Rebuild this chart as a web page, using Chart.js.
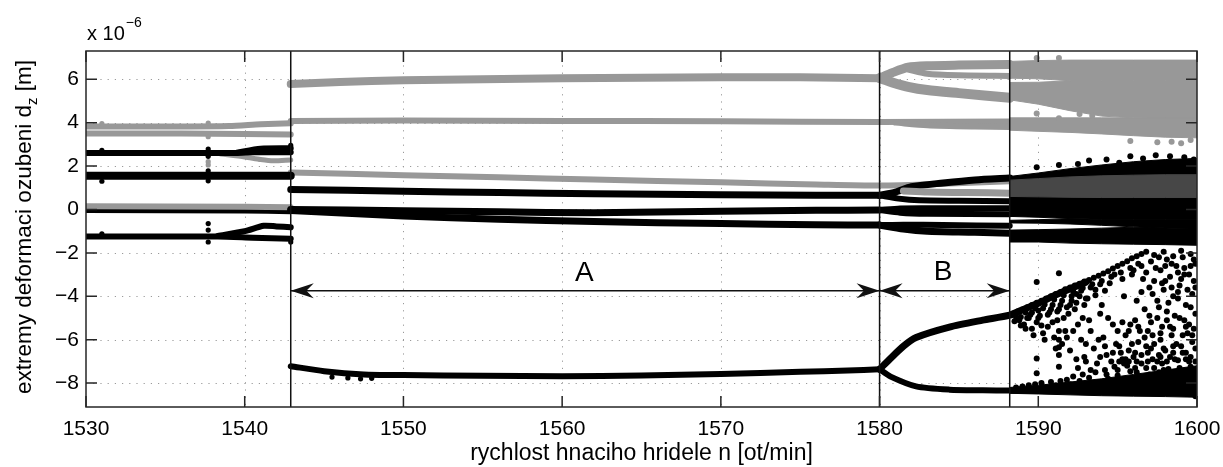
<!DOCTYPE html>
<html>
<head>
<meta charset="utf-8">
<script src="https://cdn.jsdelivr.net/npm/chart.js@4.4.1/dist/chart.umd.min.js"></script>
<style>
  html, body { margin: 0; padding: 0; background: #fff; }
  canvas { display: block; }
</style>
</head>
<body>
<canvas id="bifurcation" width="1223" height="467"></canvas>
<script>
// --- axes ---
const speedTicks = [1530, 1540, 1550, 1560, 1570, 1580, 1590, 1600];
const deformTicks = [-8, -6, -4, -2, 0, 2, 4, 6];
const regionBounds = [1542.9, 1580, 1588.2];
const arrowLevel = -3.75;
const regionLabels = [['A', 1561.4, -2.95], ['B', 1584.0, -2.9]];

const GRAY = '#989898';
const BLACK = '#000000';

// --- 1530-1542.9 rpm ---
const gray38 = [[1530, 3.82], [1536, 3.82], [1539, 3.84], [1541, 3.92], [1542.9, 3.97]];
const gray35 = [[1530, 3.5], [1536, 3.5], [1540, 3.48], [1542.9, 3.45]];
const black26 = [[1530, 2.6], [1539, 2.6], [1540.5, 2.63], [1542.9, 2.64]];
const black28 = [[1539.5, 2.62], [1541, 2.8], [1542.9, 2.82]];
const gray23 = [[1538.5, 2.55], [1540, 2.42], [1541, 2.3], [1541.8, 2.24], [1542.9, 2.28]];
const black16 = [[1530, 1.55], [1542.9, 1.55]];
const gray01 = [[1530, 0.15], [1540, 0.13], [1542.9, 0.1]];
const black00 = [[1530, -0.05], [1540, -0.07], [1542.9, -0.1]];
const black12 = [[1530, -1.25], [1538.3, -1.25], [1540.5, -1.3], [1542.9, -1.35]];
const black08 = [[1538.3, -1.22], [1540, -1.0], [1541.2, -0.75], [1542, -0.78], [1542.9, -0.82]];
const sweepDotsBlack = [[1531, 2.72], [1531, 1.3], [1531, -1.12], [1537.7, 2.78], [1537.7, 2.45],
  [1537.7, 1.78], [1537.7, 1.32], [1537.7, -0.65], [1537.7, -0.95], [1537.7, -1.5], [1542.9, 2.95], [1542.9, -1.5]];
const sweepDotsGray = [[1531, 3.95], [1537.7, 3.98], [1537.7, 2.2], [1537.7, 2.05], [1537.7, 3.35]];

// --- 1542.9-1580 rpm (A) ---
const gray6 = [[1542.9, 5.78], [1546, 5.87], [1550, 5.95], [1555, 6.0], [1560, 6.04], [1565, 6.07], [1570, 6.09], [1575, 6.09], [1580, 6.05]];
const gray4 = [[1542.9, 4.08], [1550, 4.1], [1560, 4.08], [1570, 4.06], [1580, 4.03], [1588.2, 4.05]];
const gray4b = [[1581, 4.0], [1583, 3.88], [1586, 3.82], [1588.2, 3.8]];
const gray14 = [[1542.9, 1.7], [1550, 1.58], [1556, 1.48], [1562, 1.38], [1570, 1.25], [1576, 1.15], [1580, 1.1], [1584, 1.18], [1588.2, 1.3]];
const black09 = [[1542.9, 0.92], [1550, 0.84], [1556, 0.78], [1562, 0.72], [1570, 0.68], [1576, 0.66], [1580, 0.65]];
const black0a = [[1542.9, 0.0], [1550, -0.06], [1556, -0.11], [1562, -0.15], [1570, -0.08], [1576, -0.04], [1580, -0.03]];
const black0b = [[1542.9, -0.05], [1550, -0.3], [1556, -0.45], [1562, -0.56], [1570, -0.65], [1576, -0.7], [1580, -0.72]];
const black75 = [[1542.9, -7.22], [1545, -7.45], [1547.5, -7.6], [1550, -7.63], [1555, -7.66], [1560, -7.68],
  [1565, -7.65], [1570, -7.58], [1575, -7.48], [1578, -7.42], [1580, -7.36]];
const black75Dots = [[1545.5, -7.72], [1546.5, -7.76], [1547.3, -7.8], [1548, -7.78]];

// --- 1580-1588.2 rpm (B) ---
const gTopA = [[1580, 6.05], [1580.8, 6.3], [1581.8, 6.55], [1583, 6.62], [1585, 6.65], [1588.2, 6.68]];
const gTopB = [[1581.8, 6.45], [1583, 6.25], [1585, 6.18], [1588.2, 6.15]];
const gTopC = [[1580, 6.05], [1580.8, 5.85], [1581.8, 5.65], [1583, 5.5], [1585, 5.36], [1588.2, 5.15]];
const k1up = [[1580, 0.65], [1581, 0.8], [1582, 1.05], [1584, 1.22], [1586, 1.36], [1588.2, 1.45]];
const k1dn = [[1580, 0.65], [1581.2, 0.5], [1582.5, 0.42], [1585, 0.4], [1588.2, 0.38]];
const gMid = [[1581.5, 0.85], [1583, 0.8], [1585.5, 0.78], [1588.2, 0.75]];
const k2up = [[1580, -0.03], [1581.3, 0.05], [1583, 0.06], [1588.2, 0.06]];
const k2dn = [[1580, -0.03], [1581.3, -0.15], [1583, -0.2], [1588.2, -0.22]];
const k3up = [[1580, -0.72], [1581.5, -0.7], [1584, -0.72], [1588.2, -0.75]];
const k3dn = [[1580, -0.72], [1581.5, -0.9], [1583, -1.0], [1586, -1.05], [1588.2, -1.1]];
const branchUp = [[1580, -7.36], [1580.7, -6.85], [1581.5, -6.3], [1582.3, -5.9], [1584.4, -5.42], [1586.5, -5.1],
  [1588.2, -4.87], [1589, -4.62], [1590, -4.32], [1591, -3.97], [1592, -3.65], [1593, -3.35]];
const branchDown = [[1580, -7.36], [1580.7, -7.7], [1582.3, -8.15], [1584.4, -8.3], [1586.5, -8.33], [1588.2, -8.34],
  [1592, -8.38], [1596, -8.42], [1600, -8.45]];

// --- 1588.2-1600 rpm, chaotic ---
const grayCloudTop = [[1588.2, 6.82], [1590, 6.86], [1592, 6.88], [1594, 6.88], [1596, 6.88], [1598, 6.88], [1600, 6.88]];
const grayGapUpper = [[1588.2, 6.05], [1590, 6.02], [1592, 5.93], [1594, 5.93], [1596, 5.93], [1598, 5.93], [1600, 5.93]];
const grayGapLower = [[1588.2, 5.85], [1590, 5.86], [1592, 5.93], [1594, 5.93], [1596, 5.93], [1598, 5.93], [1600, 5.93]];
const grayCloudLow = [[1588.2, 5.05], [1590, 4.85], [1592, 4.55], [1594, 4.3], [1596, 4.22], [1598, 4.2], [1600, 4.2]];
const grayBandTop = [[1588.2, 4.22], [1590, 4.22], [1592, 4.22], [1594, 4.22], [1596, 4.22], [1598, 4.22], [1600, 4.22]];
const grayBandLow = [[1588.2, 3.65], [1590, 3.6], [1592, 3.55], [1594, 3.48], [1596, 3.4], [1598, 3.33], [1600, 3.3]];
const grayChaosDots = [[1589.9, 4.42], [1589.9, 6.98], [1591.3, 6.98], [1591.3, 4.2], [1597.5, 3.1], [1599, 3.05],
  [1592.6, 4.4], [1593.4, 4.32], [1595.8, 3.15], [1598.4, 3.12], [1599.6, 3.2]];

const midCloudTop = [[1588.2, 1.52], [1590, 1.68], [1592, 1.88], [1594, 2.05], [1596, 2.2], [1598, 2.3], [1600, 2.35]];
const midGap1Top = [[1588.2, -0.32], [1590, -0.36], [1592, -0.42], [1594, -0.45], [1596, -0.45], [1598, -0.45], [1600, -0.45]];
const midGap1Low = [[1588.2, -0.5], [1590, -0.47], [1592, -0.43], [1594, -0.45], [1596, -0.45], [1598, -0.45], [1600, -0.45]];
const midGap2Top = [[1588.2, -0.62], [1590, -0.63], [1592, -0.67], [1594, -0.73], [1596, -0.8], [1598, -0.85], [1600, -0.88]];
const midGap2Low = [[1588.2, -0.95], [1590, -0.93], [1592, -0.9], [1594, -0.86], [1596, -0.82], [1598, -0.85], [1600, -0.88]];
const midCloudLow = [[1588.2, -1.5], [1590, -1.5], [1592, -1.55], [1594, -1.58], [1596, -1.6], [1598, -1.62], [1600, -1.65]];
const mixTop = [[1588.2, 1.35], [1590, 1.42], [1592, 1.5], [1594, 1.55], [1596, 1.58], [1598, 1.6], [1600, 1.6]];
const mixLow = [[1588.2, 0.6], [1590, 0.58], [1592, 0.56], [1594, 0.55], [1596, 0.55], [1598, 0.55], [1600, 0.55]];
const midTopDots = [[1589.9, 1.95], [1591.3, 2.05], [1592.5, 2.1], [1593.2, 2.25], [1594.3, 2.3], [1595.1, 2.15],
  [1595.8, 2.45], [1596.6, 2.35], [1597.4, 2.5], [1598.3, 2.45], [1599.2, 2.4], [1599.8, 2.3]];

const lowBandTop = [[1588.2, -8.2], [1590, -8.1], [1592, -7.95], [1594, -7.8], [1596, -7.6], [1598, -7.4], [1600, -7.2]];
const lowBandLow = [[1588.2, -8.47], [1590, -8.5], [1592, -8.54], [1594, -8.58], [1596, -8.6], [1598, -8.62], [1600, -8.65]];

const lowerCloud = [
  // upper edge of the spreading branch
  [1588.4, -4.8], [1588.7, -4.7], [1589.0, -4.62], [1589.3, -4.5], [1589.6, -4.4], [1589.9, -4.3], [1590.2, -4.2],
  [1590.5, -4.1], [1590.8, -4.0], [1591.1, -3.9], [1591.4, -3.8], [1591.7, -3.68], [1592.0, -3.6], [1592.3, -3.5],
  [1592.6, -3.42], [1592.9, -3.32], [1593.2, -3.25], [1593.5, -3.15], [1593.8, -3.05], [1594.1, -2.95], [1594.4, -2.85],
  [1594.7, -2.72], [1595.0, -2.6], [1595.3, -2.5], [1595.6, -2.38], [1595.9, -2.25], [1596.2, -2.15], [1596.5, -2.05],
  [1596.8, -1.95],
  [1588.6, -4.95], [1589.2, -4.75], [1589.8, -4.55], [1590.4, -4.38], [1591.0, -4.15], [1591.6, -3.95], [1592.2, -3.78],
  [1592.8, -3.62], [1593.4, -3.45], [1594.0, -3.3], [1594.6, -3.1], [1595.2, -2.9], [1595.8, -2.7],
  [1588.9, -5.35], [1589.3, -5.0], [1589.6, -4.75], [1590.0, -5.0], [1590.3, -4.55], [1590.6, -4.85], [1590.9, -4.4],
  [1591.2, -4.7], [1591.5, -4.2], [1591.8, -4.5], [1592.1, -4.0], [1592.4, -4.3], [1592.7, -3.75], [1593.0, -4.1],
  [1593.3, -3.6], [1593.6, -3.95], [1593.9, -3.45], [1594.2, -3.75],
  // inside, close to the boundary line
  [1588.8, -5.1], [1589.1, -5.3], [1589.4, -5.0], [1589.6, -5.5], [1589.9, -5.2], [1590.1, -4.9], [1590.3, -5.7],
  [1590.6, -5.4], [1590.8, -4.6], [1591.0, -5.9], [1591.2, -5.1], [1591.4, -4.4], [1591.5, -6.2], [1591.7, -5.6],
  [1591.9, -4.8], [1592.0, -6.5], [1592.1, -4.2],
  [1588.5, -5.15], [1588.9, -4.95], [1589.2, -5.5], [1589.5, -4.85], [1589.7, -5.8], [1590.0, -4.65], [1590.2, -5.35],
  [1590.4, -6.0], [1590.7, -4.75], [1590.9, -5.2], [1591.1, -6.4], [1591.3, -4.6], [1591.6, -5.0], [1591.8, -5.9],
  [1592.0, -4.4], [1592.2, -5.6], [1592.4, -6.9], [1592.6, -4.0], [1592.8, -5.0], [1593.0, -6.2],
  // single sweep columns
  [1589.9, -3.34], [1589.9, -6.86], [1589.9, -7.55], [1591.3, -2.94], [1591.3, -5.6], [1591.3, -6.0], [1591.3, -6.35],
  [1591.3, -6.7], [1591.3, -7.25],
  // lower dense band
  [1588.6, -8.2], [1589.0, -8.15], [1589.4, -8.1], [1589.8, -8.05], [1590.2, -8.0], [1590.5, -8.2], [1590.8, -7.95],
  [1591.1, -8.1], [1591.4, -7.9], [1591.6, -8.3], [1591.8, -7.85], [1592.0, -8.05], [1592.2, -7.7], [1592.4, -8.2],
  [1592.6, -7.9], [1592.8, -7.6], [1593.0, -8.1], [1593.2, -7.75], [1593.4, -8.3], [1593.6, -7.5], [1593.8, -7.95],
  [1594.0, -8.2], [1594.2, -7.4], [1594.4, -7.8], [1594.6, -8.05], [1594.8, -7.25], [1595.0, -7.65], [1595.2, -8.3],
  [1595.4, -7.1], [1595.6, -7.9], [1595.8, -7.45], [1596.0, -8.1], [1596.2, -7.0], [1596.4, -7.7], [1596.6, -8.35],
  [1596.8, -7.3], [1597.0, -7.85], [1597.2, -6.9], [1597.4, -8.2], [1597.6, -7.5], [1597.8, -7.1], [1598.0, -8.0],
  [1598.2, -7.35], [1598.4, -8.4], [1598.6, -7.7], [1598.8, -6.95], [1599.0, -8.1], [1599.2, -7.55], [1599.4, -8.45],
  [1599.6, -7.25], [1599.8, -7.9], [1599.9, -8.6],
  [1592.5, -7.3], [1593.0, -7.0], [1593.3, -7.4], [1593.9, -6.8], [1594.3, -7.6], [1594.7, -6.6], [1595.0, -7.4],
  [1595.3, -6.9], [1595.7, -7.0], [1596.1, -7.3], [1596.5, -6.7], [1596.9, -7.0], [1597.3, -7.3], [1597.7, -6.8],
  [1598.1, -7.0], [1598.5, -6.6], [1598.9, -7.3], [1599.3, -6.9], [1599.7, -7.6],
  [1595.1, -6.3], [1595.3, -5.2], [1595.5, -6.9], [1595.7, -5.6], [1595.9, -6.2], [1596.1, -6.6], [1596.3, -5.4],
  [1596.5, -7.1], [1596.7, -5.9], [1596.9, -6.6], [1597.1, -5.2], [1597.3, -6.2], [1597.5, -7.0], [1597.7, -5.7],
  [1597.9, -6.4], [1598.1, -5.1], [1598.3, -6.8], [1598.5, -5.5], [1598.7, -6.2], [1598.9, -7.6], [1599.1, -6.6],
  [1599.3, -5.4], [1599.5, -7.0], [1599.7, -5.8], [1599.9, -6.4], [1596.2, -7.5], [1597.0, -7.6], [1597.9, -7.4],
  [1598.7, -7.5], [1599.5, -7.8],
  // middle of the cloud
  [1592.3, -4.6], [1592.5, -5.3], [1592.7, -6.0], [1592.9, -6.8], [1593.1, -4.1], [1593.3, -5.6], [1593.5, -6.4],
  [1593.7, -7.1], [1593.9, -4.8], [1594.1, -5.9], [1594.3, -6.7], [1594.5, -3.4], [1594.7, -5.3], [1594.9, -6.2],
  [1595.1, -7.0], [1595.3, -3.2], [1595.5, -5.8], [1595.7, -6.5], [1595.9, -3.0], [1596.1, -5.1], [1596.3, -6.1],
  [1596.5, -2.6], [1596.5, -3.8], [1596.7, -4.6], [1596.9, -5.6], [1597.1, -2.4], [1597.1, -6.4], [1597.3, -3.3],
  [1597.5, -4.2], [1597.5, -5.0], [1597.7, -2.8], [1597.7, -6.0], [1597.9, -3.7], [1598.1, -4.7], [1598.1, -2.3],
  [1598.3, -5.4], [1598.3, -3.1], [1598.5, -6.3], [1598.5, -4.0], [1598.7, -2.6], [1598.9, -5.0], [1598.9, -3.5],
  [1599.1, -5.8], [1599.1, -2.2], [1599.3, -4.4], [1599.3, -6.6], [1599.5, -3.0], [1599.5, -5.3], [1599.7, -3.9],
  [1599.7, -6.1], [1599.9, -2.5], [1599.9, -4.8],
  [1592.4, -3.9], [1592.9, -4.4], [1593.2, -5.1], [1593.6, -3.7], [1593.8, -6.0], [1594.0, -4.4], [1594.2, -6.3],
  [1594.4, -5.0], [1594.6, -7.0], [1594.8, -3.0], [1595.0, -5.6], [1595.2, -6.6], [1595.4, -4.0], [1595.6, -7.2],
  [1595.8, -5.3], [1596.0, -2.8], [1596.0, -6.8], [1596.2, -4.2], [1596.4, -5.6], [1596.6, -3.2], [1596.8, -6.3],
  [1597.0, -4.9], [1597.0, -3.6], [1597.2, -5.8], [1597.4, -2.7], [1597.6, -4.5], [1597.6, -6.7], [1597.8, -3.4],
  [1597.8, -5.4], [1598.0, -2.6], [1598.0, -6.5], [1598.2, -4.3], [1598.4, -3.6], [1598.4, -5.8], [1598.6, -4.9],
  [1598.6, -6.9], [1598.8, -2.9], [1598.8, -4.1], [1599.0, -3.2], [1599.0, -6.3], [1599.2, -5.1], [1599.2, -2.7],
  [1599.4, -3.7], [1599.4, -5.7], [1599.6, -4.5], [1599.6, -6.8], [1599.8, -2.3], [1599.8, -3.3], [1599.8, -5.5],
  [1599.9, -7.0],
  [1596.3, -2.5], [1596.8, -2.9], [1597.2, -3.9], [1597.6, -2.2], [1598.0, -3.3], [1598.4, -2.5], [1598.8, -3.8],
  [1599.2, -3.0], [1599.6, -2.6], [1599.9, -3.6],
  [1597.3, -2.1], [1597.9, -1.95], [1598.5, -2.15], [1599.0, -1.9], [1599.6, -2.05]
];

// --- dataset helpers, drawn in list order (later on top) ---
function band(data, color, width) {
  return { data, borderColor: color, borderWidth: width, pointRadius: 0, tension: 0.25,
    borderCapStyle: 'round', borderJoinStyle: 'round', fill: false };
}
function area(top, bottom, color) {
  return [
    { data: top, borderColor: color, borderWidth: 1, backgroundColor: color, pointRadius: 0, fill: '+1' },
    { data: bottom, borderColor: color, borderWidth: 1, pointRadius: 0, fill: false }
  ];
}
function dots(data, color, r) {
  return { data, showLine: false, pointRadius: r, pointBackgroundColor: color, pointBorderWidth: 0,
    borderColor: color, pointHoverRadius: r };
}

const datasets = [
  band(gray38, GRAY, 6), band(gray35, GRAY, 6), band(gray23, GRAY, 5), band(gray6, GRAY, 8),
  band(gray4, GRAY, 6), band(gray4b, GRAY, 6), band(gray14, GRAY, 6),
  band(gTopA, GRAY, 9), band(gTopB, GRAY, 6), band(gTopC, GRAY, 10),
  ...area(grayCloudTop, grayGapUpper, GRAY), ...area(grayGapLower, grayCloudLow, GRAY),
  ...area(grayBandTop, grayBandLow, GRAY),
  dots(sweepDotsGray, GRAY, 2.6), dots(grayChaosDots, GRAY, 3),
  band(black26, BLACK, 6), band(black28, BLACK, 6), band(black16, BLACK, 8),
  band(black00, BLACK, 5), band(black12, BLACK, 6), band(black08, BLACK, 6),
  band(gray01, GRAY, 6),
  band(black09, BLACK, 7), band(black0a, BLACK, 7), band(black0b, BLACK, 7), band(black75, BLACK, 6),
  band(k1up, BLACK, 7), band(k1dn, BLACK, 6), band(gMid, GRAY, 7),
  band(k2up, BLACK, 6), band(k2dn, BLACK, 6), band(k3up, BLACK, 6), band(k3dn, BLACK, 7),
  band(branchUp, BLACK, 7), band(branchDown, BLACK, 6),
  ...area(midCloudTop, midGap1Top, BLACK), ...area(midGap1Low, midGap2Top, BLACK), ...area(midGap2Low, midCloudLow, BLACK),
  ...area(mixTop, mixLow, '#474747'),
  ...area(lowBandTop, lowBandLow, BLACK),
  dots(sweepDotsBlack, BLACK, 2.6), dots(black75Dots, BLACK, 2.6), dots(midTopDots, BLACK, 3),
  dots(lowerCloud, BLACK, 3)
];
datasets.forEach((d, i) => { d.order = -i; });

// --- frame, grid, annotations and titles ---
const FONT = '"Liberation Sans", Arial, Helvetica, sans-serif';

function arrowHead(ctx, xTip, y, dir) {
  const L = 23, h = 7.5;
  ctx.beginPath();
  ctx.moveTo(xTip, y);
  ctx.lineTo(xTip - dir * L, y - h);
  ctx.lineTo(xTip - dir * 0.68 * L, y);
  ctx.lineTo(xTip - dir * L, y + h);
  ctx.closePath();
  ctx.fill();
}

const framePlugin = {
  id: 'frame',
  beforeDatasetsDraw(chart) {
    const { ctx, chartArea: a, scales: { x, y } } = chart;
    ctx.save();
    ctx.strokeStyle = '#9a9a9a';
    ctx.lineWidth = 1;
    ctx.setLineDash([1.2, 6]);
    speedTicks.slice(1, -1).forEach(v => {
      const px = Math.round(x.getPixelForValue(v)) + 0.5;
      ctx.beginPath(); ctx.moveTo(px, a.top); ctx.lineTo(px, a.bottom); ctx.stroke();
    });
    deformTicks.forEach(v => {
      const py = Math.round(y.getPixelForValue(v)) + 0.5;
      ctx.beginPath(); ctx.moveTo(a.left, py); ctx.lineTo(a.right, py); ctx.stroke();
    });
    ctx.restore();
  },
  afterDatasetsDraw(chart) {
    const { ctx, chartArea: a, scales: { x, y } } = chart;
    ctx.save();
    ctx.strokeStyle = '#111';
    ctx.fillStyle = '#111';
    ctx.lineWidth = 1.5;

    // region boundaries
    regionBounds.forEach(v => {
      const px = x.getPixelForValue(v);
      ctx.beginPath(); ctx.moveTo(px, a.top); ctx.lineTo(px, a.bottom); ctx.stroke();
    });

    // double arrows A and B
    const ay = y.getPixelForValue(arrowLevel);
    for (let i = 0; i < regionBounds.length - 1; i++) {
      const x1 = x.getPixelForValue(regionBounds[i]);
      const x2 = x.getPixelForValue(regionBounds[i + 1]);
      ctx.beginPath(); ctx.moveTo(x1, ay); ctx.lineTo(x2, ay); ctx.stroke();
      arrowHead(ctx, x1, ay, -1);
      arrowHead(ctx, x2, ay, 1);
    }
    ctx.font = '28px ' + FONT;
    ctx.textAlign = 'center';
    ctx.textBaseline = 'middle';
    ctx.fillStyle = '#000';
    regionLabels.forEach(([t, n, d]) => ctx.fillText(t, x.getPixelForValue(n), y.getPixelForValue(d)));

    // box with inward ticks
    ctx.strokeStyle = '#262626';
    ctx.lineWidth = 1.5;
    ctx.strokeRect(a.left, a.top, a.right - a.left, a.bottom - a.top);
    const tl = 11;
    ctx.beginPath();
    speedTicks.forEach(v => {
      const px = x.getPixelForValue(v);
      ctx.moveTo(px, a.bottom); ctx.lineTo(px, a.bottom - tl);
      ctx.moveTo(px, a.top); ctx.lineTo(px, a.top + tl);
    });
    deformTicks.forEach(v => {
      const py = y.getPixelForValue(v);
      ctx.moveTo(a.left, py); ctx.lineTo(a.left + tl, py);
      ctx.moveTo(a.right, py); ctx.lineTo(a.right - tl, py);
    });
    ctx.stroke();

    // axis titles
    ctx.fillStyle = '#000';
    ctx.textAlign = 'center';
    ctx.textBaseline = 'alphabetic';
    ctx.font = '23px ' + FONT;
    ctx.fillText('rychlost hnaciho hridele n [ot/min]', (a.left + a.right) / 2, 460);

    ctx.save();
    ctx.translate(31, 227);
    ctx.rotate(-Math.PI / 2);
    ctx.textAlign = 'left';
    const main = 'extremy deformaci ozubeni d', tail = ' [m]';
    ctx.font = '22.5px ' + FONT;
    const w1 = ctx.measureText(main).width, w3 = ctx.measureText(tail).width;
    ctx.font = '15px ' + FONT;
    const w2 = ctx.measureText('z').width;
    const sx = -(w1 + w2 + w3) / 2;
    ctx.font = '22.5px ' + FONT;
    ctx.fillText(main, sx, 0);
    ctx.font = '15px ' + FONT;
    ctx.fillText('z', sx + w1, 6);
    ctx.font = '22.5px ' + FONT;
    ctx.fillText(tail, sx + w1 + w2, 0);
    ctx.restore();

    // exponent of the y axis
    ctx.textAlign = 'left';
    ctx.font = '20px ' + FONT;
    ctx.fillText('x 10', a.left + 1, 40);
    const wx = ctx.measureText('x 10').width;
    ctx.font = '14px ' + FONT;
    ctx.fillText('\u22126', a.left + 2 + wx, 27);
    ctx.restore();
  }
};

new Chart(document.getElementById('bifurcation'), {
  type: 'line',
  data: { datasets },
  options: {
    responsive: false,
    animation: false,
    layout: { padding: { left: 0, right: 26, top: 51, bottom: 0 } },
    plugins: { legend: { display: false }, tooltip: { enabled: false } },
    events: [],
    scales: {
      x: {
        type: 'linear', min: 1530, max: 1600,
        afterBuildTicks: s => { s.ticks = speedTicks.map(v => ({ value: v })); },
        afterFit: s => { s.height = 60; s.paddingLeft = 0; s.paddingRight = 0; },
        ticks: { font: { family: FONT, size: 21 }, color: '#000', padding: 10, maxRotation: 0,
          callback: v => String(v) },
        grid: { display: false, drawTicks: false },
        border: { display: false }
      },
      y: {
        type: 'linear', min: -9.1, max: 7.3,
        afterBuildTicks: s => { s.ticks = deformTicks.map(v => ({ value: v })); },
        afterFit: s => { s.width = 86; s.paddingTop = 0; s.paddingBottom = 0; },
        ticks: {
          font: { family: FONT, size: 21 }, color: '#000', padding: 7,
          callback: v => (v < 0 ? '\u2212' + Math.abs(v) : String(v))
        },
        grid: { display: false, drawTicks: false },
        border: { display: false }
      }
    }
  },
  plugins: [framePlugin]
});
</script>
</body>
</html>
